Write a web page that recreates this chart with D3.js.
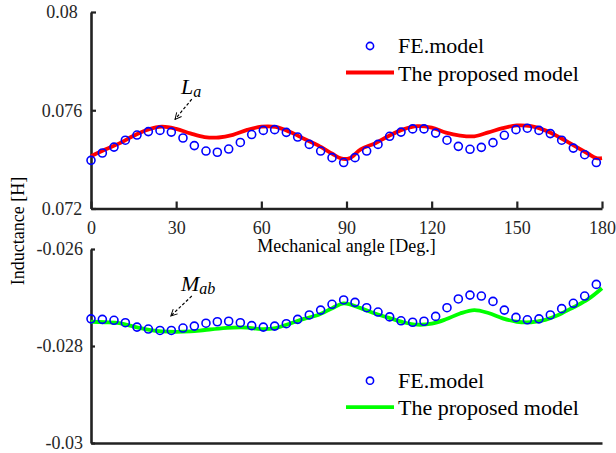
<!DOCTYPE html>
<html>
<head>
<meta charset="utf-8">
<script src="https://cdn.jsdelivr.net/npm/d3@7"></script>
<style>
  body { margin: 0; background: #fff; }
  svg text { font-family: 'Liberation Serif', 'Times New Roman', serif; }
</style>
</head>
<body>
<div id="chart"></div>
<script>
// FE sample angles (deg) and values
let feAngles = [0, 4.0, 8.1, 12.1, 16.2, 20.2, 24.3, 28.3, 32.4, 36.4, 40.5, 44.5, 48.5, 52.6, 56.6,
  60.7, 64.7, 68.8, 72.8, 76.9, 80.9, 84.9, 89.0, 93.0, 97.1, 101.1, 105.2, 109.2, 113.3, 117.3,
  121.4, 125.4, 129.4, 133.5, 137.5, 141.6, 145.6, 149.7, 153.7, 157.8, 161.8, 165.8, 169.9, 173.9, 178.0]

let laFE = [0.07396, 0.07426, 0.07450, 0.07478, 0.07499, 0.07513, 0.07518, 0.07511, 0.07487, 0.07456,
  0.07434, 0.07429, 0.07442, 0.07469, 0.07501, 0.07518, 0.07521, 0.07510, 0.07491, 0.07461,
  0.07434, 0.07407, 0.07387, 0.07407, 0.07434, 0.07461, 0.07494, 0.07511, 0.07524, 0.07524,
  0.07507, 0.07478, 0.07453, 0.07441, 0.07449, 0.07468, 0.07498, 0.07521, 0.07527, 0.07518,
  0.07505, 0.07478, 0.07446, 0.07419, 0.07387]

let mabFE = [-0.02744, -0.02745, -0.02747, -0.02752, -0.02761, -0.02765, -0.02768, -0.02768, -0.02763, -0.02759,
  -0.02753, -0.02750, -0.02749, -0.02752, -0.02758, -0.02761, -0.02759, -0.02754, -0.02745, -0.02736,
  -0.02726, -0.02714, -0.02705, -0.02710, -0.02721, -0.02730, -0.02740, -0.02748, -0.02751, -0.02749,
  -0.02739, -0.02721, -0.02703, -0.02695, -0.02697, -0.02708, -0.02726, -0.02741, -0.02746, -0.02744,
  -0.02736, -0.02723, -0.02712, -0.02697, -0.02673]

// proposed model curves
let laAngles = [0, 5, 10, 15, 20, 25, 30, 35, 40, 45, 50, 55, 60, 65, 70, 75, 80, 85, 88, 91,
  95, 100, 105, 110, 115, 120, 125, 130, 135, 140, 145, 150, 155, 160, 165, 170, 175, 178, 180]
let laModel = [0.07413, 0.07440, 0.07465, 0.07496, 0.07521, 0.07533, 0.07524, 0.07506, 0.07491, 0.07489,
  0.07500, 0.07520, 0.07533, 0.07532, 0.07512, 0.07484, 0.07457, 0.07423, 0.07404, 0.07404,
  0.07441, 0.07465, 0.07496, 0.07522, 0.07535, 0.07529, 0.07509, 0.07497, 0.07494, 0.07510,
  0.07527, 0.07538, 0.07535, 0.07518, 0.07490, 0.07457, 0.07424, 0.07405, 0.07405]

let mabAngles = [0, 5, 10, 15, 20, 25, 30, 35, 40, 45, 50, 55, 60, 65, 70, 75, 80, 85, 89,
  95, 100, 105, 110, 115, 120, 125, 130, 135, 140, 145, 150, 155, 160, 165, 170, 175, 180]
let mabModel = [-0.02750, -0.02751, -0.02753, -0.02760, -0.02766, -0.02770, -0.02771, -0.02770, -0.02767, -0.02764,
  -0.02762, -0.02762, -0.02765, -0.02763, -0.02754, -0.02744, -0.02736, -0.02722, -0.02712,
  -0.02722, -0.02733, -0.02742, -0.02751, -0.02756, -0.02754, -0.02745, -0.02733, -0.02726, -0.02732,
  -0.02743, -0.02750, -0.02751, -0.02746, -0.02735, -0.02720, -0.02704, -0.02681]

let xTicks = [0, 30, 60, 90, 120, 150, 180]
let yTicksTop = [0.072, 0.076, 0.08]
let yTicksBot = [-0.03, -0.028, -0.026]
let legendLabels = ['FE.model', 'The proposed model']

let width = 616
let height = 453
let axisColor = '#222'
let serif = "'Liberation Serif', 'Times New Roman', serif"

let svg = d3
  .select('#chart')
  .append('svg')
  .attr('width', width)
  .attr('height', height)

svg.append('defs')
  .append('marker')
  .attr('id', 'arrow')
  .attr('viewBox', '0 0 10 10')
  .attr('refX', 9)
  .attr('refY', 5)
  .attr('markerWidth', 8)
  .attr('markerHeight', 8)
  .attr('markerUnits', 'userSpaceOnUse')
  .attr('orient', 'auto')
  .append('path')
  .attr('d', 'M1,1 L9,5 L1,9')
  .attr('fill', 'none')
  .attr('stroke', '#000')
  .attr('stroke-width', 1.2)

let x = d3.scaleLinear().domain([0, 180]).range([91, 602])
let yTop = d3.scaleLinear().domain([0.072, 0.08]).range([208.5, 12])
let yBot = d3.scaleLinear().domain([-0.03, -0.026]).range([443, 249])

function styleAxis(g) {
  g.attr('font-family', serif)
  g.select('.domain').attr('stroke', axisColor).attr('stroke-width', 2.6)
  g.selectAll('.tick line').attr('stroke', axisColor).attr('stroke-width', 2.2)
  g.selectAll('text')
    .attr('fill', '#262626')
    .style('font-size', '18px')
    .style('font-family', serif)
}

// ---- top panel (La) ----
let topX = svg.append('g')
  .attr('transform', 'translate(0,' + yTop(0.072) + ')')
  .call(d3.axisBottom(x).tickValues(xTicks).tickSizeInner(-7).tickSizeOuter(0).tickFormat(d => d))
topX.selectAll('text').attr('y', 12.5).attr('dy', '0.71em')
styleAxis(topX)

let topY = svg.append('g')
  .attr('transform', 'translate(' + x(0) + ',0)')
  .call(d3.axisLeft(yTop).tickValues(yTicksTop).tickSizeInner(-5).tickSizeOuter(0).tickFormat(d => String(d)))
topY.selectAll('text').attr('x', -29).attr('text-anchor', 'middle')
styleAxis(topY)

let line = (yScale) => d3.line()
  .x(d => x(d[0]))
  .y(d => yScale(d[1]))
  .curve(d3.curveCatmullRom.alpha(0.5))

svg.append('path')
  .datum(laAngles.map((a, i) => [a, laModel[i]]))
  .attr('d', line(yTop))
  .attr('fill', 'none')
  .attr('stroke', '#ff0000')
  .attr('stroke-width', 3.8)

svg.append('g')
  .selectAll('circle')
  .data(feAngles.map((a, i) => [a, laFE[i]]))
  .enter()
  .append('circle')
  .attr('cx', d => x(d[0]))
  .attr('cy', d => yTop(d[1]))
  .attr('r', 4)
  .attr('fill', 'none')
  .attr('stroke', '#0000ff')
  .attr('stroke-width', 1.6)

// ---- bottom panel (Mab) ----
let botX = svg.append('g')
  .attr('transform', 'translate(0,' + yBot(-0.03) + ')')
  .call(d3.axisBottom(x).tickValues([]).tickSizeOuter(0))
styleAxis(botX)

let botY = svg.append('g')
  .attr('transform', 'translate(' + x(0) + ',0)')
  .call(d3.axisLeft(yBot).tickValues(yTicksBot).tickSizeInner(-4).tickSizeOuter(0).tickFormat(d => String(d)))
botY.selectAll('text').attr('x', -8)
styleAxis(botY)

svg.append('path')
  .datum(mabAngles.map((a, i) => [a, mabModel[i]]))
  .attr('d', line(yBot))
  .attr('fill', 'none')
  .attr('stroke', '#00ff00')
  .attr('stroke-width', 3.8)

svg.append('g')
  .selectAll('circle')
  .data(feAngles.map((a, i) => [a, mabFE[i]]))
  .enter()
  .append('circle')
  .attr('cx', d => x(d[0]))
  .attr('cy', d => yBot(d[1]))
  .attr('r', 4)
  .attr('fill', 'none')
  .attr('stroke', '#0000ff')
  .attr('stroke-width', 1.6)

// axis titles
svg.append('text')
  .attr('x', (x(0) + x(180)) / 2)
  .attr('y', 252)
  .attr('text-anchor', 'middle')
  .attr('font-family', serif)
  .style('font-size', '18px')
  .attr('fill', '#000')
  .text('Mechanical angle [Deg.]')

svg.append('text')
  .attr('transform', 'translate(24,231) rotate(-90)')
  .attr('text-anchor', 'middle')
  .attr('font-family', serif)
  .style('font-size', '18px')
  .attr('fill', '#000')
  .text('Inductance [H]')

// annotations
function annotate(main, sub, yScale, labelAt, from, to) {
  let t = svg.append('text')
    .attr('x', x(labelAt[0]))
    .attr('y', yScale(labelAt[1]))
    .attr('font-family', serif)
    .style('font-style', 'italic')
    .style('font-size', '22px')
    .attr('fill', '#000')
  t.append('tspan').text(main)
  t.append('tspan').attr('dy', 3).style('font-size', '16px').text(sub)

  svg.append('line')
    .attr('x1', x(from[0]))
    .attr('y1', yScale(from[1]))
    .attr('x2', x(to[0]))
    .attr('y2', yScale(to[1]))
    .attr('stroke', '#000')
    .attr('stroke-width', 1.2)
    .attr('stroke-dasharray', '3,2')
    .attr('marker-end', 'url(#arrow)')
}

annotate('L', 'a', yTop, [31.7, 0.07665], [35.5, 0.07645], [29.6, 0.07563])
annotate('M', 'ab', yBot, [31.7, -0.02686], [35.5, -0.02697], [28.1, -0.02738])

// legends
function legend(top, color) {
  let g = svg.append('g')
  g.append('circle')
    .attr('cx', 370)
    .attr('cy', top)
    .attr('r', 3.6)
    .attr('fill', 'none')
    .attr('stroke', '#0000ff')
    .attr('stroke-width', 1.6)
  g.append('line')
    .attr('x1', 346)
    .attr('x2', 394)
    .attr('y1', top + 26.5)
    .attr('y2', top + 26.5)
    .attr('stroke', color)
    .attr('stroke-width', 3.8)
  g.selectAll('text')
    .data(legendLabels)
    .enter()
    .append('text')
    .attr('x', 398)
    .attr('y', (d, i) => top + 7 + i * 27.5)
    .attr('font-family', serif)
    .style('font-size', '22px')
    .attr('fill', '#000')
    .text(d => d)
}

legend(46, '#ff0000')
legend(380.7, '#00ff00')
</script>
</body>
</html>
